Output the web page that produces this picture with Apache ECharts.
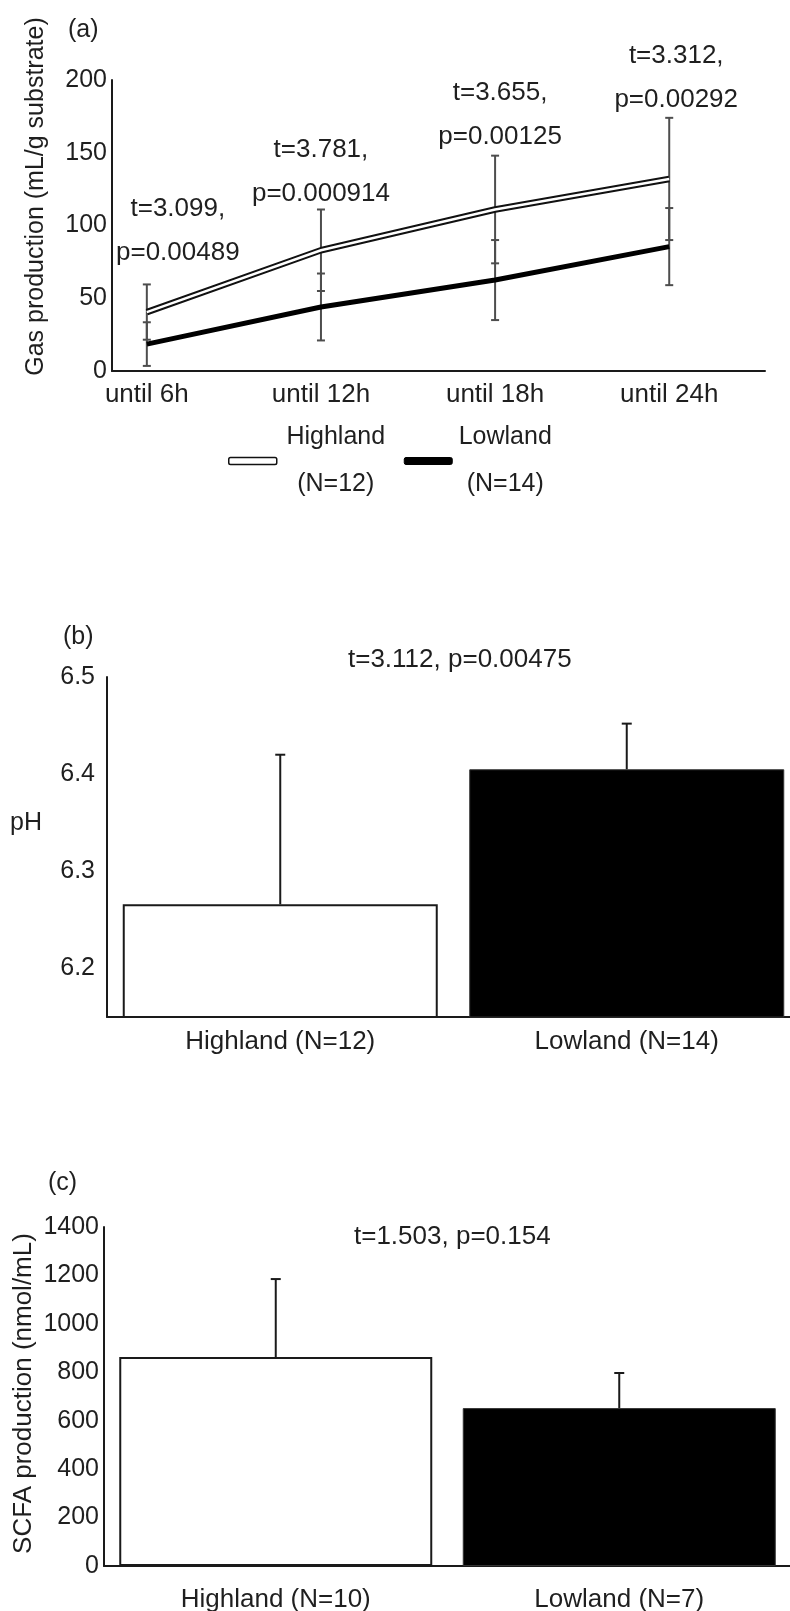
<!DOCTYPE html>
<html>
<head>
<meta charset="utf-8">
<script src="https://cdn.jsdelivr.net/npm/echarts@6/dist/echarts.min.js"></script>
<style>
  html, body { margin: 0; padding: 0; background: #fff; }
  #chart { width: 790px; height: 1611px; }
</style>
</head>
<body>
<div id="chart"></div>
<script>
// ---------- DATA ----------
// Panel (a): gas production
const timeCategories = ['until 6h', 'until 12h', 'until 18h', 'until 24h'];
const highlandGasMean = [40.5, 83, 111, 132];
const highlandGasSD = [19, 28, 37, 42];
const lowlandGasMean = [18.5, 44, 62.5, 85.5];
const lowlandGasSD = [15, 23, 27.5, 26.5];
const gasT = ['3.099', '3.781', '3.655', '3.312'];
const gasP = ['0.00489', '0.000914', '0.00125', '0.00292'];
const gasN = { Highland: 12, Lowland: 14 };

// Panel (b): pH
const phCategories = ['Highland (N=12)', 'Lowland (N=14)'];
const phMean = [6.266, 6.405];
const phSD = [0.154, 0.047];
const phT = '3.112', phP = '0.00475';

// Panel (c): SCFA
const scfaCategories = ['Highland (N=10)', 'Lowland (N=7)'];
const scfaMean = [863, 652];
const scfaSD = [322, 145];
const scfaT = '1.503', scfaP = '0.154';

// ---------- STYLE / LAYOUT ----------
const TXT = '#1f1f1f';
const FONT = 'Liberation Sans, Arial, sans-serif';
const FS = 25;
const annotShift = [[31, -12], [0, 4], [5, 1], [7, 2]];
const barFill = ['#ffffff', '#000000'];
const barBorder = ['#1a1a1a', '#333333'];
const barBorderW = [2, 1];

function errRender(capHalf, color, width, lowerCap) {
  return function (params, api) {
    const x = api.value(0), lo = api.value(1), hi = api.value(2);
    const a = api.coord([x, lo]), b = api.coord([x, hi]);
    const st = { stroke: color, lineWidth: width };
    const ch = [
      { type: 'line', shape: { x1: a[0], y1: a[1], x2: b[0], y2: b[1] }, style: st },
      { type: 'line', shape: { x1: b[0] - capHalf, y1: b[1], x2: b[0] + capHalf, y2: b[1] }, style: st }
    ];
    if (lowerCap) ch.push({ type: 'line', shape: { x1: a[0] - capHalf, y1: a[1], x2: a[0] + capHalf, y2: a[1] }, style: st });
    return { type: 'group', children: ch };
  };
}

function annotRender(params, api) {
  const i = params.dataIndex;
  const pt = api.coord([api.value(0), api.value(1)]);
  return {
    type: 'text',
    x: pt[0] + annotShift[i][0],
    y: pt[1] + 2 + annotShift[i][1],
    style: {
      text: 't=' + gasT[i] + ',\np=' + gasP[i],
      fill: TXT, fontSize: 26, fontFamily: FONT,
      align: 'center', verticalAlign: 'bottom', lineHeight: 44
    }
  };
}

const axisLineStyle = { show: true, onZero: false, lineStyle: { color: '#1a1a1a', width: 2 } };
const titleStyle = { fontSize: FS, fontWeight: 'normal', color: TXT, lineHeight: 26, fontFamily: FONT };

const gasErrData = [];
timeCategories.forEach((c, i) => gasErrData.push([i, highlandGasMean[i] - highlandGasSD[i], highlandGasMean[i] + highlandGasSD[i]]));
timeCategories.forEach((c, i) => gasErrData.push([i, lowlandGasMean[i] - lowlandGasSD[i], lowlandGasMean[i] + lowlandGasSD[i]]));

const option = {
  animation: false,
  backgroundColor: '#fff',
  textStyle: { fontFamily: FONT, color: TXT },
  title: [
    { text: '(a)', left: 68, top: 17, padding: 0, textStyle: titleStyle },
    { text: '(b)', left: 63, top: 624, padding: 0, textStyle: titleStyle },
    { text: '(c)', left: 48, top: 1170, padding: 0, textStyle: titleStyle },
    { text: 'pH', left: 10, top: 810, padding: 0, textStyle: titleStyle },
    { text: 't=' + phT + ', p=' + phP, left: 348, top: 647, padding: 0, textStyle: Object.assign({}, titleStyle, { fontSize: 26 }) },
    { text: 't=' + scfaT + ', p=' + scfaP, left: 354, top: 1224, padding: 0, textStyle: Object.assign({}, titleStyle, { fontSize: 26 }) }
  ],
  legend: {
    left: 228, top: 425, padding: 0,
    itemWidth: 48, itemHeight: 7, itemGap: 14,
    data: [
      { name: 'Highland', icon: 'roundRect', itemStyle: { color: '#ffffff', borderColor: '#111', borderWidth: 1.5 } },
      { name: 'Lowland', icon: 'roundRect', itemStyle: { color: '#000', borderColor: '#000', borderWidth: 1 } }
    ],
    formatter: name => name === 'Highland'
      ? '{h|' + name + '}\n{h|(N=' + gasN[name] + ')}'
      : '{l|' + name + '}\n{l|(N=' + gasN[name] + ')}',
    textStyle: {
      fontSize: FS, color: TXT,
      rich: {
        h: { width: 108, align: 'center', lineHeight: 47, fontSize: FS, color: TXT },
        l: { width: 96, align: 'center', lineHeight: 47, fontSize: FS, color: TXT }
      }
    },
    selectedMode: false
  },
  grid: [
    { left: 112, top: 80, width: 653, height: 291, outerBoundsMode: 'none', containLabel: false },
    { left: 107, top: 677, width: 693, height: 340, outerBoundsMode: 'none', containLabel: false },
    { left: 104, top: 1227, width: 687, height: 339, outerBoundsMode: 'none', containLabel: false }
  ],
  xAxis: [
    {
      gridIndex: 0, type: 'value', min: -0.2, max: 3.55, interval: 0.05,
      axisLine: axisLineStyle, axisTick: { show: false }, splitLine: { show: false },
      axisLabel: {
        fontSize: 26, color: TXT, margin: 11,
        formatter: v => { const r = Math.round(v); return (Math.abs(v - r) < 1e-6 && r >= 0 && r < timeCategories.length) ? timeCategories[r] : ''; }
      }
    },
    {
      gridIndex: 1, type: 'category', data: phCategories,
      axisLine: axisLineStyle, axisTick: { show: false },
      axisLabel: { fontSize: 26, color: TXT, margin: 12 }
    },
    {
      gridIndex: 2, type: 'category', data: scfaCategories,
      axisLine: axisLineStyle, axisTick: { show: false },
      axisLabel: { fontSize: 26, color: TXT, margin: 21 }
    }
  ],
  yAxis: [
    {
      gridIndex: 0, type: 'value', min: 0, max: 200, interval: 50,
      axisLine: axisLineStyle, axisTick: { show: false }, splitLine: { show: false },
      axisLabel: { fontSize: FS, color: TXT, margin: 5 },
      name: 'Gas production (mL/g substrate)', nameLocation: 'middle', nameGap: 63, nameMoveOverlap: false,
      nameTextStyle: { fontSize: FS, color: TXT, padding: [0, 0, 0, 58] }
    },
    {
      gridIndex: 1, type: 'value', min: 6.15, max: 6.5, interval: 0.05,
      axisLine: axisLineStyle, axisTick: { show: false }, splitLine: { show: false },
      axisLabel: {
        fontSize: FS, color: TXT, margin: 12,
        formatter: v => (Math.round(v * 100) % 10 === 0) ? v.toFixed(1) : ''
      }
    },
    {
      gridIndex: 2, type: 'value', min: 0, max: 1400, interval: 200,
      axisLine: axisLineStyle, axisTick: { show: false }, splitLine: { show: false },
      axisLabel: { fontSize: FS, color: TXT, margin: 5, formatter: v => String(v) },
      name: 'SCFA production (nmol/mL)', nameLocation: 'middle', nameGap: 67, nameMoveOverlap: false,
      nameTextStyle: { fontSize: 26, color: TXT, padding: [0, 0, 0, 6] }
    }
  ],
  series: [
    {
      name: 'errA', type: 'custom', xAxisIndex: 0, yAxisIndex: 0, z: 2,
      renderItem: errRender(4, '#4d4d4d', 2, true),
      encode: { x: 0, y: [1, 2] },
      data: gasErrData, silent: true
    },
    {
      name: 'Highland', type: 'line', xAxisIndex: 0, yAxisIndex: 0, z: 3,
      symbol: 'none', color: '#111',
      lineStyle: { color: '#111', width: 6.5 },
      data: highlandGasMean.map((v, i) => [i, v]), silent: true
    },
    {
      name: 'Highland inner', type: 'line', xAxisIndex: 0, yAxisIndex: 0, z: 4,
      symbol: 'none', color: '#fff',
      lineStyle: { color: '#fff', width: 2.5 },
      data: highlandGasMean.map((v, i) => [i, v]), silent: true
    },
    {
      name: 'Lowland', type: 'line', xAxisIndex: 0, yAxisIndex: 0, z: 3,
      symbol: 'none', color: '#000',
      lineStyle: { color: '#000', width: 5 },
      data: lowlandGasMean.map((v, i) => [i, v]), silent: true
    },
    {
      name: 'annotA', type: 'custom', xAxisIndex: 0, yAxisIndex: 0, z: 5,
      renderItem: annotRender, silent: true, clip: false,
      encode: { x: 0, y: 1 },
      data: timeCategories.map((c, i) => [i, highlandGasMean[i] + highlandGasSD[i]])
    },
    {
      name: 'barsB', type: 'bar', xAxisIndex: 1, yAxisIndex: 1, barWidth: 315, z: 2,
      data: phMean.map((v, i) => ({ value: v, itemStyle: { color: barFill[i], borderColor: barBorder[i], borderWidth: barBorderW[i] } })),
      silent: true
    },
    {
      name: 'errB', type: 'custom', xAxisIndex: 1, yAxisIndex: 1, z: 3,
      renderItem: errRender(5, '#1a1a1a', 2, false),
      encode: { x: 0, y: [1, 2] },
      data: phMean.map((v, i) => [i, v, v + phSD[i]]), silent: true
    },
    {
      name: 'barsC', type: 'bar', xAxisIndex: 2, yAxisIndex: 2, barWidth: 313, z: 2,
      data: scfaMean.map((v, i) => ({ value: v, itemStyle: { color: barFill[i], borderColor: barBorder[i], borderWidth: barBorderW[i] } })),
      silent: true
    },
    {
      name: 'errC', type: 'custom', xAxisIndex: 2, yAxisIndex: 2, z: 3,
      renderItem: errRender(5, '#1a1a1a', 2, false),
      encode: { x: 0, y: [1, 2] },
      data: scfaMean.map((v, i) => [i, v, v + scfaSD[i]]), silent: true
    }
  ]
};

const chart = echarts.init(document.getElementById('chart'), null, { renderer: 'canvas' });
chart.setOption(option);
</script>
</body>
</html>
